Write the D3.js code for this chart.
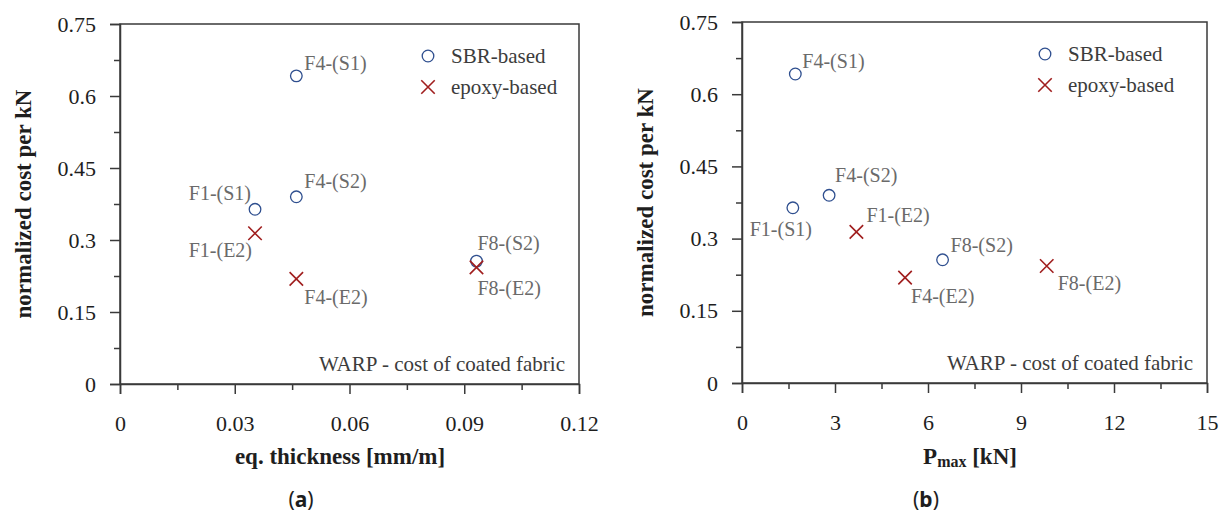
<!DOCTYPE html>
<html>
<head>
<meta charset="utf-8">
<script src="https://cdn.jsdelivr.net/npm/d3@7"></script>
<style>
  body { margin: 0; background: #fff; }
  text { font-family: "Liberation Serif", "Times New Roman", serif; }
</style>
</head>
<body>
<div class="chart"></div>
<script>
// data
var sbrLabels = ["F1-(S1)", "F4-(S1)", "F4-(S2)", "F8-(S2)"];
var sbrThickness = [0.0353, 0.0461, 0.0461, 0.0932];
var sbrPmax = [1.64, 1.72, 2.81, 6.47];
var sbrCost = [0.364, 0.642, 0.390, 0.256];

var epoxyLabels = ["F1-(E2)", "F4-(E2)", "F8-(E2)"];
var epoxyThickness = [0.0353, 0.0461, 0.0932];
var epoxyPmax = [3.69, 5.26, 9.83];
var epoxyCost = [0.314, 0.219, 0.243];

var yTicks = [0, 0.15, 0.3, 0.45, 0.6, 0.75];
var yTickLabels = ["0", "0.15", "0.3", "0.45", "0.6", "0.75"];
var xTicksA = [0, 0.03, 0.06, 0.09, 0.12];
var xTickLabelsA = ["0", "0.03", "0.06", "0.09", "0.12"];
var xTicksB = [0, 3, 6, 9, 12, 15];
var xTickLabelsB = ["0", "3", "6", "9", "12", "15"];

var svgWidth = 1229;
var svgHeight = 520;

var svg = d3.select(".chart")
  .append("svg")
  .attr("width", svgWidth)
  .attr("height", svgHeight);

// label placement relative to each point: [dx, dy, anchor]
var offsetsA = {
  "F1-(S1)": [-4, -16, "end"],
  "F4-(S1)": [8, -13, "start"],
  "F4-(S2)": [8, -16, "start"],
  "F8-(S2)": [1, -18, "start"],
  "F1-(E2)": [-3, 17, "end"],
  "F4-(E2)": [8, 18, "start"],
  "F8-(E2)": [1, 21, "start"]
};
var offsetsB = {
  "F1-(S1)": [-12, 21, "middle"],
  "F4-(S1)": [7, -13, "start"],
  "F4-(S2)": [6, -20, "start"],
  "F8-(S2)": [8, -15, "start"],
  "F1-(E2)": [10, -17, "start"],
  "F4-(E2)": [6, 18, "start"],
  "F8-(E2)": [11, 17, "start"]
};

function drawPanel(opt) {
  var g = svg.append("g");
  var x = d3.scaleLinear().domain(opt.xDomain).range([opt.left, opt.right]);
  var y = d3.scaleLinear().domain([0, 0.75]).range([opt.bottom, opt.top]);

  // frame
  g.append("rect")
    .attr("x", opt.left).attr("y", opt.top)
    .attr("width", opt.right - opt.left)
    .attr("height", opt.bottom - opt.top)
    .attr("fill", "none")
    .attr("stroke", "#3a3a3a")
    .attr("stroke-width", 1.5);

  // minor ticks
  var yMinor = d3.range(0.075, 0.75, 0.15);
  g.append("g")
    .attr("transform", `translate(${opt.left},0)`)
    .call(d3.axisLeft(y).tickValues(yMinor).tickSize(6).tickFormat(""))
    .call(a => a.select(".domain").remove());
  var step = opt.xTicks[1] - opt.xTicks[0];
  var xMinor = opt.xTicks.slice(0, -1).map(v => v + step / 2);
  g.append("g")
    .attr("transform", `translate(0,${opt.bottom})`)
    .call(d3.axisBottom(x).tickValues(xMinor).tickSize(6).tickFormat(""))
    .call(a => a.select(".domain").remove());

  // major axes
  var leftAxis = d3.axisLeft(y).tickValues(yTicks).tickSize(10).tickPadding(14)
    .tickFormat((d, i) => yTickLabels[i]);
  var bottomAxis = d3.axisBottom(x).tickValues(opt.xTicks).tickSize(10).tickPadding(21)
    .tickFormat((d, i) => opt.xTickLabels[i]);

  g.append("g")
    .attr("transform", `translate(${opt.left},0)`)
    .call(leftAxis);
  g.append("g")
    .attr("transform", `translate(0,${opt.bottom})`)
    .call(bottomAxis);

  g.selectAll(".tick line").attr("stroke", "#3a3a3a").attr("stroke-width", 1.5);
  g.selectAll(".domain").attr("stroke", "#3a3a3a").attr("stroke-width", 1.5);
  g.selectAll(".tick text")
    .attr("font-size", "22px")
    .attr("fill", "#1e1e1e");

  // points
  var sbr = sbrLabels.map((l, i) => ({ label: l, x: opt.sbrX[i], y: sbrCost[i] }));
  var epoxy = epoxyLabels.map((l, i) => ({ label: l, x: opt.epoxyX[i], y: epoxyCost[i] }));

  g.selectAll("circle.sbr")
    .data(sbr)
    .enter()
    .append("circle")
    .attr("class", "sbr")
    .attr("cx", d => x(d.x))
    .attr("cy", d => y(d.y))
    .attr("r", 5.8)
    .attr("fill", "none")
    .attr("stroke", "#2f4f8f")
    .attr("stroke-width", 1.3);

  var cross = d3.symbol().type(d3.symbolX).size(120);
  g.selectAll("path.epoxy")
    .data(epoxy)
    .enter()
    .append("path")
    .attr("class", "epoxy")
    .attr("d", cross)
    .attr("transform", d => `translate(${x(d.x)},${y(d.y)})`)
    .attr("fill", "none")
    .attr("stroke", "#a01e1e")
    .attr("stroke-width", 1.6);

  g.selectAll("text.pt")
    .data(sbr.concat(epoxy))
    .enter()
    .append("text")
    .attr("class", "pt")
    .attr("x", d => x(d.x) + opt.offsets[d.label][0])
    .attr("y", d => y(d.y) + opt.offsets[d.label][1])
    .attr("dy", "0.35em")
    .attr("text-anchor", d => opt.offsets[d.label][2])
    .attr("font-size", "20px")
    .attr("fill", "#6a6a6a")
    .text(d => d.label);

  // legend
  var lx = opt.right - opt.legendInset;
  g.append("circle")
    .attr("cx", lx).attr("cy", opt.top + 32)
    .attr("r", 5.8)
    .attr("fill", "none")
    .attr("stroke", "#2f4f8f")
    .attr("stroke-width", 1.3);
  g.append("path")
    .attr("d", cross)
    .attr("transform", `translate(${lx},${opt.top + 63})`)
    .attr("fill", "none")
    .attr("stroke", "#a01e1e")
    .attr("stroke-width", 1.6);
  g.append("text")
    .attr("x", lx + 23).attr("y", opt.top + 32).attr("dy", "0.35em")
    .attr("font-size", "21px").attr("fill", "#3c3c3c")
    .text("SBR-based");
  g.append("text")
    .attr("x", lx + 23).attr("y", opt.top + 63).attr("dy", "0.35em")
    .attr("font-size", "21px").attr("fill", "#3c3c3c")
    .text("epoxy-based");

  g.append("text")
    .attr("x", opt.right - 14).attr("y", opt.bottom - 20).attr("dy", "0.35em")
    .attr("text-anchor", "end")
    .attr("font-size", "21px").attr("fill", "#3c3c3c")
    .text("WARP - cost of coated fabric");

  // axis titles
  g.append("text")
    .attr("transform", `translate(${opt.left - 97},${(opt.top + opt.bottom) / 2}) rotate(-90)`)
    .attr("dy", "0.35em")
    .attr("text-anchor", "middle")
    .attr("font-size", "23px")
    .attr("font-weight", "bold")
    .attr("fill", "#1e1e1e")
    .text("normalized cost per kN");

  var xt = g.append("text")
    .attr("x", opt.xTitleX).attr("y", 464)
    .attr("text-anchor", "middle")
    .attr("font-size", "23px")
    .attr("font-weight", "bold")
    .attr("fill", "#1e1e1e");
  opt.xTitle(xt);

  var cap = g.append("text")
    .attr("x", opt.capX).attr("y", 507)
    .attr("text-anchor", "middle")
    .style("font-family", "'Noto Sans', sans-serif")
    .attr("font-size", "21px")
    .attr("fill", "#1e1e1e");
  cap.append("tspan").text("(");
  cap.append("tspan").attr("font-weight", "bold").text(opt.cap);
  cap.append("tspan").text(")");
}

drawPanel({
  left: 120, right: 579, top: 24, bottom: 384,
  xDomain: [0, 0.12],
  xTicks: xTicksA, xTickLabels: xTickLabelsA,
  sbrX: sbrThickness, epoxyX: epoxyThickness,
  offsets: offsetsA,
  legendInset: 151,
  xTitleX: 340,
  xTitle: t => t.text("eq. thickness [mm/m]"),
  capX: 301, cap: "a"
});

drawPanel({
  left: 742, right: 1207, top: 22, bottom: 383,
  xDomain: [0, 15],
  xTicks: xTicksB, xTickLabels: xTickLabelsB,
  sbrX: sbrPmax, epoxyX: epoxyPmax,
  offsets: offsetsB,
  legendInset: 162,
  xTitleX: 970,
  xTitle: t => {
    t.append("tspan").text("P");
    t.append("tspan").attr("font-size", "16px").attr("dy", "3").text("max");
    t.append("tspan").attr("dy", "-3").text(" [kN]");
  },
  capX: 926, cap: "b"
});
</script>
</body>
</html>
